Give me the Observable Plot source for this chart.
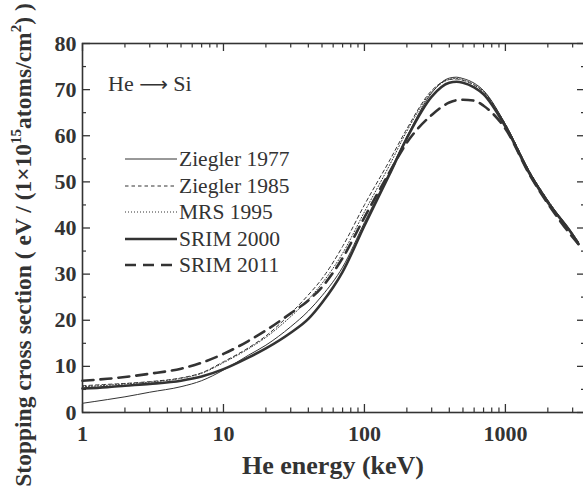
<!DOCTYPE html>
<html><head><meta charset="utf-8">
<script src="https://cdn.jsdelivr.net/npm/d3@7"></script>
<script src="https://cdn.jsdelivr.net/npm/@observablehq/plot@0.6"></script>
<style>body{margin:0;background:#fff} svg{display:block}</style>
</head><body><div id="chart"></div>
<script>
// He energy (keV)
const energy = [1, 1.5, 2, 3, 5, 7, 10, 15, 20, 30, 40, 50, 70, 100, 150, 200, 300, 400, 450, 500, 600, 700, 1000, 1500, 2000, 3000, 3300];
// Stopping cross section (eV/(1e15 atoms/cm2))
const ziegler1977 = [2.0, 2.8, 3.4, 4.4, 5.6, 6.9, 9.2, 12.4, 14.6, 18.6, 22.0, 25.3, 31.5, 41.2, 52.0, 59.8, 69.3, 72.5, 72.7, 72.4, 71.4, 69.8, 62.5, 52.0, 46.0, 38.8, 37.0];
const ziegler1985 = [5.8, 6.1, 6.3, 6.7, 7.5, 8.6, 11.0, 14.0, 16.6, 21.5, 25.5, 29.0, 36.0, 45.0, 54.5, 61.5, 69.8, 72.2, 72.3, 72.0, 71.0, 69.5, 62.5, 52.0, 46.0, 38.5, 36.8];
const mrs1995     = [5.6, 5.9, 6.2, 6.6, 7.4, 8.5, 10.8, 13.8, 16.3, 20.8, 24.5, 28.0, 34.5, 43.5, 53.5, 61.0, 69.5, 72.2, 72.4, 72.1, 71.1, 69.6, 62.5, 52.0, 46.0, 38.6, 36.8];
const srim2000    = [5.2, 5.5, 5.8, 6.2, 6.9, 7.8, 9.4, 11.9, 13.9, 17.3, 20.3, 23.8, 30.5, 40.5, 51.5, 59.5, 68.5, 71.5, 71.7, 71.5, 70.5, 69.0, 62.0, 51.5, 45.5, 38.5, 36.5];
const srim2011    = [6.9, 7.3, 7.7, 8.4, 9.5, 10.8, 12.7, 15.5, 17.8, 21.5, 24.3, 27.2, 33.5, 42.3, 52.0, 58.5, 64.5, 67.2, 67.7, 67.8, 67.6, 66.5, 61.5, 51.3, 45.3, 38.0, 36.5];
const seriesNames = ["Ziegler 1977", "Ziegler 1985", "MRS 1995", "SRIM 2000", "SRIM 2011"];
const xTicks = [1, 10, 100, 1000];
const xMinor = [2,3,4,5,6,7,8,9,20,30,40,50,60,70,80,90,200,300,400,500,600,700,800,900,2000,3000];
const yTicks = [0, 10, 20, 30, 40, 50, 60, 70, 80];
const yMinor = [5, 15, 25, 35, 45, 55, 65, 75];

const ink = "#333";
const W = 583, H = 492, mL = 82, mT = 43, mB = 80, mR = -2;
const innerH = H - mT - mB, innerW = W - mL - mR;
const styles = [
  {w: 1, dash: null},
  {w: 1, dash: "3.5,3"},
  {w: 1, dash: "1,2"},
  {w: 2.6, dash: null},
  {w: 2.6, dash: "11,7"}
];
const allSeries = [ziegler1977, ziegler1985, mrs1995, srim2000, srim2011];

const marks = [];
allSeries.forEach((vals, k) => {
  const data = energy.map((e, i) => ({e, v: vals[i], s: seriesNames[k]}));
  marks.push(Plot.line(data, {x: "e", y: "v", stroke: ink, strokeWidth: styles[k].w,
    strokeDasharray: styles[k].dash, curve: "monotone-x"}));
});
// inward ticks
marks.push(Plot.tickX(xTicks, {x: d => d, stroke: ink, strokeWidth: 1.3, insetTop: innerH - 8}));
marks.push(Plot.tickX(xMinor, {x: d => d, stroke: ink, strokeWidth: 1.2, insetTop: innerH - 4.5}));
marks.push(Plot.tickX(xTicks, {x: d => d, stroke: ink, strokeWidth: 1.3, insetBottom: innerH - 8}));
marks.push(Plot.tickX(xMinor, {x: d => d, stroke: ink, strokeWidth: 1.2, insetBottom: innerH - 4.5}));
marks.push(Plot.tickY(yTicks, {y: d => d, stroke: ink, strokeWidth: 1.3, insetRight: innerW - 8}));
marks.push(Plot.tickY(yMinor, {y: d => d, stroke: ink, strokeWidth: 1.2, insetRight: innerW - 4}));
marks.push(Plot.tickY(yTicks, {y: d => d, stroke: ink, strokeWidth: 1.3, insetLeft: innerW - 8}));
marks.push(Plot.tickY(yMinor, {y: d => d, stroke: ink, strokeWidth: 1.2, insetLeft: innerW - 4}));
marks.push(Plot.frame({stroke: ink, strokeWidth: 1.6}));
marks.push(Plot.axisX({ticks: xTicks, tickSize: 0, tickPadding: 13, tickFormat: d => String(d),
  fontSize: 22, fontWeight: "bold", label: null}));
marks.push(Plot.axisY({ticks: yTicks, tickSize: 0, tickPadding: 6, tickFormat: d => String(d),
  fontSize: 22, fontWeight: "bold", label: null}));

const chart = Plot.plot({
  width: W, height: H,
  marginLeft: mL, marginTop: mT, marginBottom: mB, marginRight: mR,
  x: {type: "log", domain: [1, 3700]},
  y: {domain: [0, 80]},
  style: {fontFamily: "'Liberation Serif', 'Times New Roman', serif", color: ink, background: "#fff", overflow: "hidden"},
  marks
});
document.getElementById("chart").appendChild(chart);

const svg = d3.select(chart);
const font = "'Liberation Serif', 'Times New Roman', serif";
// y label with superscripts
const yl = svg.append("text").attr("transform", "translate(31,245) rotate(-90)")
  .attr("text-anchor", "middle").attr("font-size", 23.5).attr("font-weight", "bold")
  .attr("fill", ink).attr("font-family", font);
yl.append("tspan").text("Stopping cross section ( eV / (1×10");
yl.append("tspan").attr("font-size", 15).attr("dy", -10).text("15");
yl.append("tspan").attr("dy", 10).text("atoms/cm");
yl.append("tspan").attr("font-size", 15).attr("dy", -10).text("2");
yl.append("tspan").attr("dy", 10).text(") )");
// x label
svg.append("text").attr("x", 333).attr("y", 474).attr("text-anchor", "middle")
  .attr("font-size", 26).attr("font-weight", "bold").attr("fill", ink).attr("font-family", font)
  .text("He energy (keV)");
// annotation
const ann = svg.append("text").attr("x", 108).attr("y", 91).attr("text-anchor", "start")
  .attr("font-size", 22).attr("fill", ink).attr("font-family", font);
ann.append("tspan").text("He ");
ann.append("tspan").attr("font-family", "'DejaVu Sans', sans-serif").attr("font-size", 20).text("⟶");
ann.append("tspan").text(" Si");
// legend
const legY = [159, 186, 212, 239, 265];
seriesNames.forEach((name, k) => {
  svg.append("line").attr("x1", 125).attr("x2", 177).attr("y1", legY[k]).attr("y2", legY[k])
    .attr("stroke", ink).attr("stroke-width", styles[k].w)
    .attr("stroke-dasharray", styles[k].dash);
  svg.append("text").attr("x", 179).attr("y", legY[k] + 7).attr("text-anchor", "start")
    .attr("font-size", 21.5).attr("fill", ink).attr("font-family", font).text(name);
});
</script></body></html>
